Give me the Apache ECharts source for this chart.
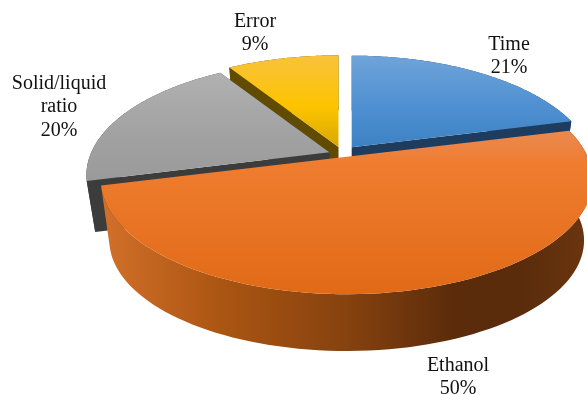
<!DOCTYPE html>
<html>
<head>
<meta charset="utf-8">
<style>html,body{margin:0;padding:0;background:#fff}#c{width:587px;height:395px}</style>
<script src="https://cdn.jsdelivr.net/npm/echarts@6/dist/echarts.min.js"></script>
</head>
<body>
<div id="c"></div>
<script>
// Data
const categories = ['Time', 'Ethanol', 'Solid/liquid\nratio', 'Error'];
const shares = [21, 50, 20, 9];

// Layout and style of each slice (same order as categories)
const apexX = [351.7, 346.7, 329.3, 338.5];
const apexY = [147.3, 156.7, 152.3, 147];
const radiusX = [238, 241, 238, 238];
const depth = [52, 61.6, 52, 52];
const labelX = [509, 458, 59, 255];
const labelY = [56, 377, 107, 33];
const wallFill = ['#1d3c5e', null, '#3c3c3c', '#614b00'];
const topStops = [
  [[0, '#6fa4d9'], [0.55, '#4f90d2'], [1, '#3d82c4']],
  [[0, '#e98a52'], [0.2, '#f07c30'], [1, '#e06a16']],
  [[0, '#b1b1b1'], [0.55, '#a2a2a2'], [1, '#9a9a9a']],
  [[0, '#f8c23c'], [0.55, '#fdc400'], [1, '#d9a800']]
];
const sideStops = [[0, '#d2702a'], [0.25, '#aa5512'], [0.5, '#86420f'], [0.72, '#5b2b0a'], [0.85, '#5a2c0b'], [1, '#6c3610']];
const paintOrder = [3, 2, 0, 1];

// Projection of the disc
const radiusY = 110, perspective = 0.2, baseShrink = 0.965;
const total = shares.reduce((a, b) => a + b, 0);
const startAngle = [];
shares.reduce((acc, v, i) => { startAngle[i] = acc / total * 2 * Math.PI; return acc + v; }, 0);

function proj(i, t, base) {
  const u = Math.sin(t), v = -Math.cos(t), w = 1 - perspective * v;
  const s = base ? baseShrink : 1;
  return [
    apexX[i] + s * radiusX[i] * u / w,
    apexY[i] + (base ? depth[i] : 0) + s * radiusY * v / w
  ];
}
function rim(i, base) {
  const a0 = startAngle[i], a1 = a0 + shares[i] / total * 2 * Math.PI, n = 90, out = [];
  for (let k = 0; k <= n; k++) out.push(proj(i, a0 + (a1 - a0) * k / n, base));
  return out;
}
function poly(points, fill) {
  return { type: 'polygon', shape: { points }, style: { fill, stroke: null } };
}
function vGrad(stops) {
  return new echarts.graphic.LinearGradient(0, 0, 0, 1, stops.map(s => ({ offset: s[0], color: s[1] })));
}
function hGrad(stops) {
  return new echarts.graphic.LinearGradient(0, 0, 1, 0, stops.map(s => ({ offset: s[0], color: s[1] })));
}

function renderItem(params, api) {
  const i = api.value(0);
  const apexTop = [apexX[i], apexY[i]];
  const apexBase = [apexX[i], apexY[i] + depth[i]];
  const top = rim(i, false), base = rim(i, true);
  const children = [];
  const wallColour = wallFill[i] || hGrad(sideStops);
  if (wallFill[i]) {
    children.push(poly([apexTop, top[0], base[0], apexBase], wallColour));
    children.push(poly([apexTop, top[top.length - 1], base[base.length - 1], apexBase], wallColour));
  }
  children.push(poly(top.concat(base.slice().reverse()), wallColour));
  children.push(poly([apexTop].concat(top), vGrad(topStops[i])));
  children.push({
    type: 'text', z2: 100,
    style: {
      x: labelX[i], y: labelY[i],
      text: categories[i] + '\n' + shares[i] + '%',
      fill: '#111111', align: 'center', verticalAlign: 'middle',
      font: '20px "Liberation Serif"', lineHeight: 23.5
    }
  });
  return { type: 'group', children };
}

const chart = echarts.init(document.getElementById('c'), null, { renderer: 'canvas' });
chart.setOption({
  animation: false,
  backgroundColor: '#ffffff',
  series: [{
    type: 'custom',
    coordinateSystem: 'none',
    renderItem,
    clip: false,
    silent: true,
    data: paintOrder.map(i => [i, shares[i]])
  }]
});
</script>
</body>
</html>
